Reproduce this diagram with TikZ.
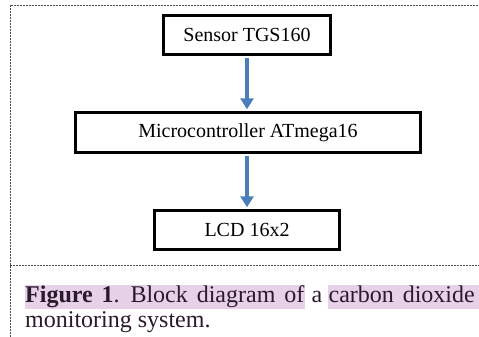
\documentclass[tikz,border=0pt]{standalone}
\usepackage{fontspec}
\setmainfont{Liberation Serif}
\usetikzlibrary{arrows.meta,backgrounds}
\definecolor{arrowblue}{HTML}{4A7EBB}
\definecolor{hl}{HTML}{E6D1E8}
\definecolor{captxt}{HTML}{2A1A2A}
\begin{document}
\begin{tikzpicture}[x=1pt,y=-1pt,
  blk/.style={draw=black,line width=3.2pt,fill=white,inner sep=0pt,font=\fontsize{20}{24}\selectfont},
  flow/.style={draw=arrowblue,line width=3.4pt,-{Triangle[width=13pt,length=11pt]},shorten >=1.6pt,shorten <=1.6pt},
  frame/.style={draw=black!70,line width=0.9pt,dash pattern=on 2pt off 1pt},
  captext/.style={inner sep=0pt,anchor=base west,font=\fontsize{24}{27}\selectfont,text=captxt}]
\useasboundingbox (0,0) rectangle (479,337);
\draw[frame] (10,337) -- (10,5) -- (479,5);
\draw[frame] (10,265) -- (479,265);
\node[blk,minimum width=167pt,minimum height=39pt] (sensor) at (247,35) {Sensor TGS160};
\node[blk,minimum width=345pt,minimum height=40pt] (mcu) at (248,132.5) {Microcontroller ATmega16};
\node[blk,minimum width=185pt,minimum height=39pt] (lcd) at (247,230) {LCD 16x2};
\draw[flow] (sensor.south) -- (sensor.south |- mcu.north);
\draw[flow] (mcu.south -| sensor.south) -- (sensor.south |- lcd.north);
\node[captext] (f1) at (25,302) {\spaceskip=8.9pt\relax\textbf{Figure 1}. Block diagram of};
\node[captext,anchor=base east] (f2) at (475,302) {\spaceskip=8.9pt\relax carbon dioxide};
\node[captext,anchor=base] (a) at (317,302) {a};
\node[captext] (l2) at (25,327) {monitoring system.};
\begin{scope}[on background layer]
  \fill[white] (0,0) rectangle (479,337);
  \fill[hl] (f1.west |- 0,285) rectangle (f1.east |- 0,309);
  \fill[hl] (f2.west |- 0,285) rectangle (479,309);
\end{scope}
\end{tikzpicture}
\end{document}
